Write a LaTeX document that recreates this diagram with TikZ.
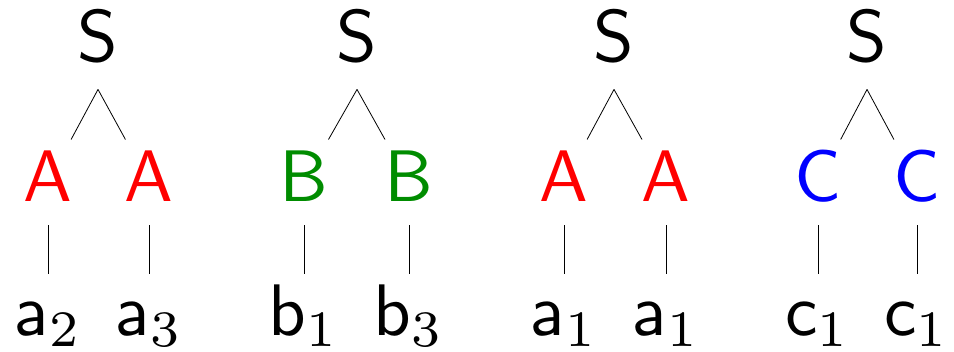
\documentclass[tikz,border=0pt]{standalone}
\definecolor{tgreen}{RGB}{0,140,0}
\definecolor{tblue}{RGB}{0,0,255}
\definecolor{tred}{RGB}{255,0,0}
\begin{document}
% 1 unit = 1 reference pixel; 10pt text = 73 px
\begin{tikzpicture}[x=0.137pt,y=0.137pt,
  every node/.style={inner sep=0pt, font=\normalsize},
  root/.style={anchor=base, text depth=3.56pt},
  mid/.style={anchor=base, text height=8.36pt, text depth=3.01pt},
  leaf/.style={anchor=base, text height=8.36pt},
  edge/.style={line width=0.11pt}]
\useasboundingbox (0,0) rectangle (954,-352);
% tree 1
\node[root] (s1) at (98,-62) {$\mathsf{S}$};
\node[mid,text=tred] (m11) at (48,-202) {$\mathsf{A}$};
\node[mid,text=tred] (m12) at (149,-202) {$\mathsf{A}$};
\node[leaf] (l11) at (48,-336) {$\mathsf{a}_2$};
\node[leaf] (l12) at (149,-336) {$\mathsf{a}_3$};
% tree 2
\node[root] (s2) at (357,-62) {$\mathsf{S}$};
\node[mid,text=tgreen] (m21) at (304,-202) {$\mathsf{B}$};
\node[mid,text=tgreen] (m22) at (409,-202) {$\mathsf{B}$};
\node[leaf] (l21) at (304,-336) {$\mathsf{b}_1$};
\node[leaf] (l22) at (409,-336) {$\mathsf{b}_3$};
% tree 3
\node[root] (s3) at (614,-62) {$\mathsf{S}$};
\node[mid,text=tred] (m31) at (564,-202) {$\mathsf{A}$};
\node[mid,text=tred] (m32) at (666,-202) {$\mathsf{A}$};
\node[leaf] (l31) at (564,-336) {$\mathsf{a}_1$};
\node[leaf] (l32) at (666,-336) {$\mathsf{a}_1$};
% tree 4
\node[root] (s4) at (867,-62) {$\mathsf{S}$};
\node[mid,text=tblue] (m41) at (818,-202) {$\mathsf{C}$};
\node[mid,text=tblue] (m42) at (917,-202) {$\mathsf{C}$};
\node[leaf] (l41) at (818,-336) {$\mathsf{c}_1$};
\node[leaf] (l42) at (917,-336) {$\mathsf{c}_1$};
% edges
\foreach \t in {1,2,3,4}{
  \draw[edge] (s\t.south) -- (m\t1);
  \draw[edge] (s\t.south) -- (m\t2);
  \draw[edge] (m\t1.south) -- (l\t1.north);
  \draw[edge] (m\t2.south) -- (l\t2.north);
}
\end{tikzpicture}
\end{document}
